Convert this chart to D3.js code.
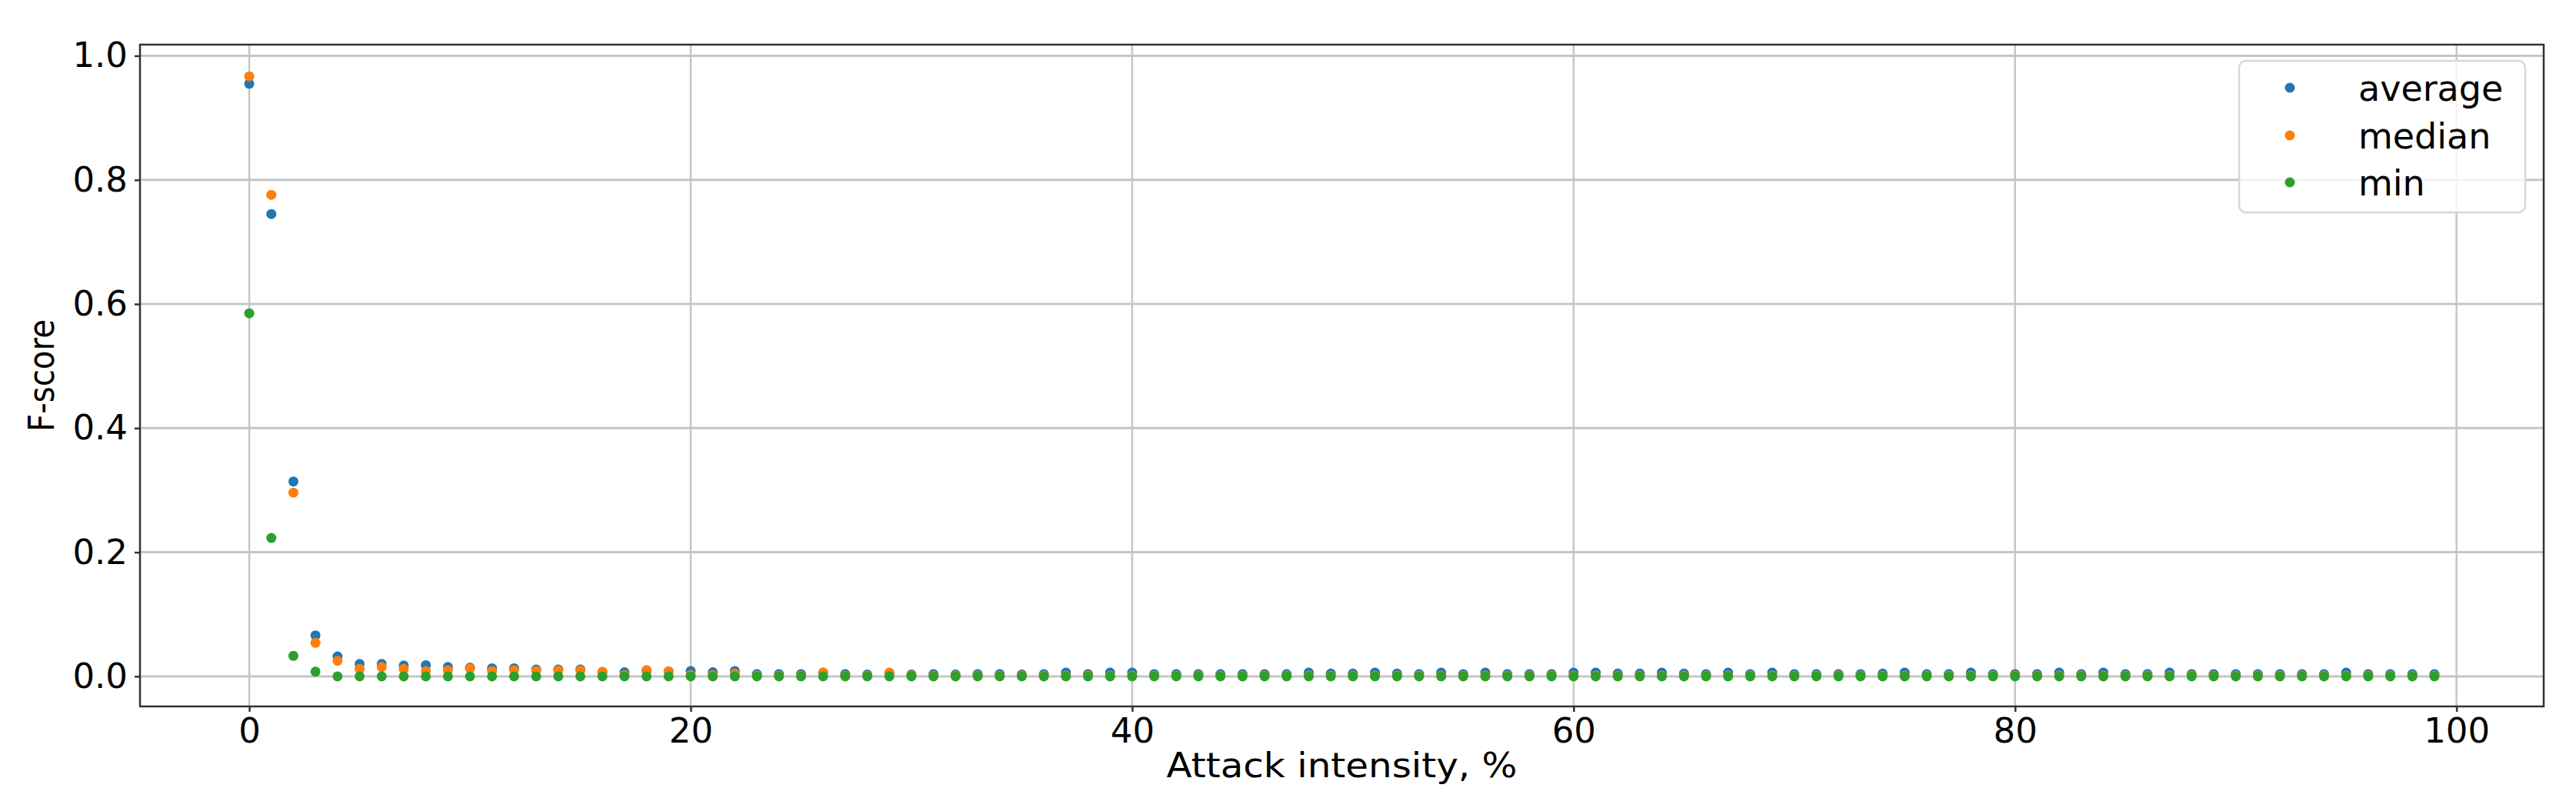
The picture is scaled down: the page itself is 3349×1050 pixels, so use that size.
<!DOCTYPE html>
<html>
<head>
<meta charset="utf-8">
<script src="https://cdn.jsdelivr.net/npm/d3@7"></script>
<style>
  html, body { margin: 0; padding: 0; background: #fff; }
  svg { display: block; }
  text { font-family: "DejaVu Sans", sans-serif; fill: #000; }
</style>
</head>
<body>
<svg id="chart" width="3349" height="1050"></svg>
<script>
// ---- data ----
const intensity = d3.range(0, 100);
const seriesNames = ["average", "median", "min"];
const seriesColors = ["#1f77b4", "#ff7f0e", "#2ca02c"];

const average = [
  0.955, 0.745, 0.314, 0.066, 0.032, 0.020, 0.020, 0.0175, 0.018, 0.015,
  0.014, 0.013, 0.013, 0.011, 0.011, 0.011, 0.007, 0.0066, 0.009, 0.0075,
  0.0087, 0.0066, 0.0087, 0.0035, 0.0035, 0.0035, 0.005, 0.0035, 0.003, 0.005,
  0.003, 0.0035, 0.003, 0.0035, 0.0035, 0.003, 0.0035, 0.006, 0.0035, 0.006,
  0.006, 0.0035, 0.0035, 0.0035, 0.0035, 0.0035, 0.0035, 0.0035, 0.006, 0.0045,
  0.0045, 0.006, 0.0045, 0.0035, 0.006, 0.0035, 0.006, 0.0035, 0.0035, 0.0035,
  0.006, 0.006, 0.0045, 0.0045, 0.006, 0.0045, 0.0035, 0.006, 0.0035, 0.006,
  0.0035, 0.0035, 0.0035, 0.0035, 0.0045, 0.006, 0.0035, 0.0035, 0.006, 0.0035,
  0.0035, 0.0035, 0.006, 0.0035, 0.006, 0.0035, 0.0035, 0.006, 0.0035, 0.0035,
  0.0035, 0.0035, 0.0035, 0.0035, 0.0035, 0.006, 0.0035, 0.0035, 0.0035, 0.0035
];
const median = [
  0.967, 0.776, 0.296, 0.054, 0.025, 0.012, 0.015, 0.012, 0.0087, 0.0096,
  0.013, 0.0087, 0.010, 0.009, 0.0095, 0.0095, 0.0074, 0.002, 0.010, 0.008,
  0.002, 0.002, 0.0045, 0.001, 0.001, 0.001, 0.0065, 0.001, 0.001, 0.006,
  0.001, 0.001, 0.001, 0.001, 0.001, 0.001, 0.001, 0.001, 0.001, 0.001,
  0.001, 0.001, 0.001, 0.001, 0.001, 0.001, 0.001, 0.001, 0.001, 0.001,
  0.001, 0.001, 0.001, 0.001, 0.001, 0.001, 0.001, 0.001, 0.001, 0.001,
  0.001, 0.001, 0.001, 0.001, 0.001, 0.001, 0.001, 0.001, 0.001, 0.001,
  0.001, 0.001, 0.001, 0.001, 0.001, 0.001, 0.001, 0.001, 0.001, 0.001,
  0.001, 0.001, 0.001, 0.001, 0.001, 0.001, 0.001, 0.001, 0.001, 0.001,
  0.001, 0.001, 0.001, 0.001, 0.001, 0.001, 0.001, 0.001, 0.001, 0.001
];
const minimum = [
  0.585, 0.223, 0.033, 0.0075, 0, 0, 0, 0, 0, 0,
  0, 0, 0, 0, 0, 0, 0, 0, 0, 0,
  0, 0, 0, 0, 0, 0, 0, 0, 0, 0,
  0, 0, 0, 0, 0, 0, 0, 0, 0, 0,
  0, 0, 0, 0, 0, 0, 0, 0, 0, 0,
  0, 0, 0, 0, 0, 0, 0, 0, 0, 0,
  0, 0, 0, 0, 0, 0, 0, 0, 0, 0,
  0, 0, 0, 0, 0, 0, 0, 0, 0, 0,
  0, 0, 0, 0, 0, 0, 0, 0, 0, 0,
  0, 0, 0, 0, 0, 0, 0, 0, 0, 0
];
const xTicks = [0, 20, 40, 60, 80, 100];
const yTicks = [0.0, 0.2, 0.4, 0.6, 0.8, 1.0];
const xLabel = "Attack intensity, %";
const yLabel = "F-score";

// ---- layout ----
const svg = d3.select("#chart");
const L = 182, R = 3307, T = 58, B = 918;
const x = d3.scaleLinear().domain([-4.95, 103.95]).range([L, R]);
const y = d3.scaleLinear().domain([-0.0485, 1.018]).range([B, T]);

// grid
const grid = svg.append("g");
grid.selectAll("line.vx").data(xTicks).join("line")
  .attr("x1", d => x(d)).attr("x2", d => x(d)).attr("y1", T).attr("y2", B)
  .attr("stroke", "#c6c6c6").attr("stroke-width", 2.5);
grid.selectAll("line.hy").data(yTicks).join("line")
  .attr("x1", L).attr("x2", R).attr("y1", d => y(d)).attr("y2", d => y(d))
  .attr("stroke", "#c6c6c6").attr("stroke-width", 3);

// points
const series = [average, median, minimum];
series.forEach((vals, si) => {
  svg.append("g").selectAll("circle").data(intensity).join("circle")
    .attr("cx", d => x(d)).attr("cy", (d, i) => y(vals[i]))
    .attr("r", 6.5).attr("fill", seriesColors[si]);
});

// axes
const xAxis = d3.axisBottom(x).tickValues(xTicks).tickFormat(d3.format("d")).tickSize(7).tickPadding(8);
const gx = svg.append("g").attr("transform", `translate(0,${B})`).call(xAxis);
const yAxis = d3.axisLeft(y).tickValues(yTicks).tickFormat(d3.format(".1f")).tickSize(7).tickPadding(9);
const gy = svg.append("g").attr("transform", `translate(${L},0)`).call(yAxis);
[gx, gy].forEach(g => {
  g.select(".domain").remove();
  g.selectAll(".tick line").attr("stroke", "#333").attr("stroke-width", 2.5);
  g.selectAll(".tick text").attr("font-size", 45).attr("font-family", "DejaVu Sans").attr("fill", "#000");
});

// frame
svg.append("rect").attr("x", L).attr("y", T).attr("width", R - L).attr("height", B - T)
  .attr("fill", "none").attr("stroke", "#333").attr("stroke-width", 2.5);

// axis labels
svg.append("text").attr("x", (L + R) / 2).attr("y", 1010).attr("text-anchor", "middle")
  .attr("font-size", 44).attr("textLength", 456).attr("lengthAdjust", "spacingAndGlyphs")
  .text(xLabel);
svg.append("text").attr("transform", `translate(70,${(T + B) / 2}) rotate(-90)`)
  .attr("text-anchor", "middle").attr("font-size", 46).attr("textLength", 146)
  .attr("lengthAdjust", "spacingAndGlyphs").text(yLabel);

// legend
const lg = svg.append("g");
lg.append("rect").attr("x", 2911).attr("y", 79).attr("width", 372).attr("height", 197)
  .attr("rx", 9).attr("fill", "#fff").attr("fill-opacity", 0.8)
  .attr("stroke", "#d8d8d8").attr("stroke-width", 2.5);
const rowsY = [114, 176, 237];
seriesNames.forEach((name, i) => {
  lg.append("circle").attr("cx", 2977).attr("cy", rowsY[i]).attr("r", 6.5).attr("fill", seriesColors[i]);
  lg.append("text").attr("x", 3066).attr("y", rowsY[i]).attr("dy", "0.36em")
    .attr("font-size", 46).text(name);
});
</script>
</body>
</html>
